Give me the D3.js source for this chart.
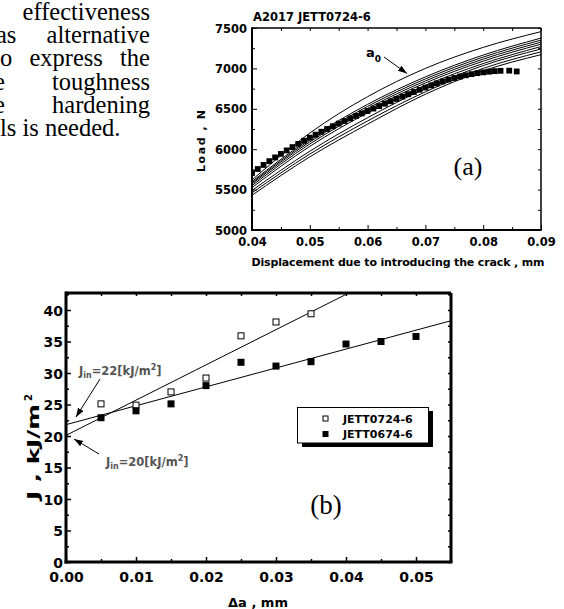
<!DOCTYPE html>
<html>
<head>
<meta charset="utf-8">
<script src="https://cdnjs.cloudflare.com/ajax/libs/d3/7.8.5/d3.min.js"></script>
<style>
	body { margin: 0; background: #fff; }
	svg { display: block; }
	.tick text { font-family: "DejaVu Sans"; font-weight: bold; fill: #000; }
	.tick line { stroke: #000; }
	.sans { font-family: "DejaVu Sans"; font-weight: bold; }
	.serif { font-family: "Liberation Serif", serif; }
</style>
</head>
<body>
<script>
// paragraph fragment on the left
const paraWords = [["effectiveness"], ["as", "alternative"], ["o", "express", "the"], ["e", "toughness"], ["e", "hardening"], ["ls", "is", "needed."]];
const paraStart = [null, -4, 0, -6, -6, 0];

// (a) load vs displacement
const topXTicks = [0.04, 0.05, 0.06, 0.07, 0.08, 0.09];
const topXMinor = [0.045, 0.055, 0.065, 0.075, 0.085];
const topYTicks = [5000, 5500, 6000, 6500, 7000, 7500];
const topYMinor = [5250, 5750, 6250, 6750, 7250];

const measDisp = [0.040, 0.041, 0.042, 0.043, 0.044, 0.045, 0.046, 0.047, 0.048, 0.049,
	0.050, 0.051, 0.052, 0.053, 0.054, 0.055, 0.056, 0.057, 0.058, 0.059,
	0.060, 0.061, 0.062, 0.063, 0.064, 0.065, 0.066, 0.067, 0.068, 0.069,
	0.070, 0.071, 0.072, 0.073, 0.074, 0.075, 0.076, 0.077, 0.078, 0.079,
	0.080, 0.081, 0.082, 0.083, 0.0845, 0.0858];
const measLoad = [5705, 5755, 5805, 5852, 5898, 5942, 5985, 6026, 6066, 6105,
	6143, 6180, 6216, 6250, 6284, 6317, 6349, 6381, 6412, 6443,
	6473, 6503, 6533, 6563, 6593, 6622, 6651, 6680, 6708, 6736,
	6763, 6790, 6815, 6839, 6861, 6881, 6899, 6915, 6929, 6941,
	6951, 6959, 6966, 6970, 6972, 6962];

// computed curves for several crack lengths (a0 is the top one)
const curveDisp = [0.04, 0.05, 0.06, 0.07, 0.08, 0.09];
const curveLoads = [
	[5620, 6200, 6650, 7000, 7260, 7455],
	[5600, 6130, 6555, 6895, 7165, 7375],
	[5585, 6110, 6530, 6870, 7140, 7350],
	[5570, 6090, 6505, 6845, 7115, 7325],
	[5550, 6065, 6480, 6820, 7090, 7300],
	[5525, 6035, 6450, 6790, 7060, 7270],
	[5490, 5975, 6390, 6750, 7035, 7240],
	[5460, 5940, 6350, 6710, 7000, 7205],
	[5430, 5905, 6310, 6680, 6970, 7170]
];

// (b) J - delta a
const bXTicks = [0, 0.01, 0.02, 0.03, 0.04, 0.05];
const bXMinor = [0.005, 0.015, 0.025, 0.035, 0.045];
const bYTicks = [0, 5, 10, 15, 20, 25, 30, 35, 40];
const bYMinor = [2.5, 7.5, 12.5, 17.5, 22.5, 27.5, 32.5, 37.5, 42.5];

const daOpen = [0.005, 0.01, 0.015, 0.02, 0.025, 0.03, 0.035];
const jOpen = [25.1, 24.9, 27.0, 29.2, 35.9, 38.1, 39.4];
const daFilled = [0.005, 0.01, 0.015, 0.02, 0.025, 0.03, 0.035, 0.04, 0.045, 0.05];
const jFilled = [22.9, 24.0, 25.1, 28.0, 31.7, 31.1, 31.8, 34.6, 35.0, 35.8];

// fitted lines, endpoints [delta a, J]
const fitOpen = [[0, 20.1], [0.0404, 42.7]];
const fitFilled = [[0, 21.8], [0.055, 38.3]];

const legendNames = ["JETT0724-6", "JETT0674-6"];

const W = 564, H = 609;
const svg = d3.select("body").append("svg")
	.attr("width", W)
	.attr("height", H);

const defs = svg.append("defs");
defs.append("marker")
	.attr("id", "arr")
	.attr("viewBox", "0 -4 9 8")
	.attr("refX", 9)
	.attr("refY", 0)
	.attr("markerUnits", "userSpaceOnUse")
	.attr("markerWidth", 9)
	.attr("markerHeight", 8)
	.attr("orient", "auto")
	.append("path")
	.attr("d", "M0,-3.2L9,0L0,3.2Z")
	.attr("fill", "#000");

// ---- paragraph ----
const para = svg.append("g").attr("class", "serif").attr("font-size", 24.5).attr("fill", "#000");
paraWords.forEach((words, i) => {
	const yb = 20 + i * 23.2;
	if (i === paraWords.length - 1) {
		para.append("text").attr("x", paraStart[i]).attr("y", yb).text(words.join(" "));
		return;
	}
	const nodes = words.map(w => para.append("text").attr("y", yb).text(w));
	const widths = nodes.map(n => n.node().getComputedTextLength());
	if (words.length === 1) {
		nodes[0].attr("x", 150).attr("text-anchor", "end");
		return;
	}
	const gap = (150 - paraStart[i] - d3.sum(widths)) / (words.length - 1);
	let cx = paraStart[i];
	nodes.forEach((n, j) => { n.attr("x", cx); cx += widths[j] + gap; });
});

// helper to draw inward ticks on all four sides
function drawAxes(g, x, y, o) {
	const [x0, x1] = x.range();
	const [y0, y1] = y.range();
	const bottom = g.append("g").attr("transform", `translate(0,${y0})`)
		.call(d3.axisBottom(x).tickValues(o.xTicks).tickSize(-o.major).tickPadding(o.xPad).tickFormat(o.xFmt));
	g.append("g").attr("transform", `translate(0,${y0})`)
		.call(d3.axisBottom(x).tickValues(o.xMinor).tickSize(-o.minor).tickFormat(""));
	g.append("g").attr("transform", `translate(0,${y1})`)
		.call(d3.axisTop(x).tickValues(o.xTicks.concat(o.xMinor)).tickSize(-o.minor).tickFormat(""));
	const left = g.append("g").attr("transform", `translate(${x0},0)`)
		.call(d3.axisLeft(y).tickValues(o.yTicks).tickSize(-o.major).tickPadding(o.yPad).tickFormat(o.yFmt));
	g.append("g").attr("transform", `translate(${x0},0)`)
		.call(d3.axisLeft(y).tickValues(o.yMinor).tickSize(-o.minor).tickFormat(""));
	g.append("g").attr("transform", `translate(${x1},0)`)
		.call(d3.axisRight(y).tickValues(o.yTicks.concat(o.yMinor)).tickSize(-o.minor).tickFormat(""));
	g.selectAll(".domain").remove();
	g.selectAll(".tick line").attr("stroke-width", o.tickW);
	bottom.selectAll("text").attr("font-size", o.fs);
	left.selectAll("text").attr("font-size", o.fs).attr("dy", "0.36em");
	// frame
	g.append("line").attr("x1", x0).attr("x2", x1).attr("y1", y1).attr("y2", y1).attr("stroke", "#000").attr("stroke-width", o.frameT);
	g.append("line").attr("x1", x1).attr("x2", x1).attr("y1", y1).attr("y2", y0).attr("stroke", "#000").attr("stroke-width", o.frameT);
	g.append("line").attr("x1", x0 - o.frameB / 2).attr("x2", x1 + o.frameT / 2).attr("y1", y0).attr("y2", y0).attr("stroke", "#000").attr("stroke-width", o.frameB);
	g.append("line").attr("x1", x0).attr("x2", x0).attr("y1", y1 - o.frameT / 2).attr("y2", y0 + o.frameB / 2).attr("stroke", "#000").attr("stroke-width", o.frameB);
}

// ---- chart (a) ----
const xA = d3.scaleLinear().domain([0.04, 0.09]).range([252, 541]);
const yA = d3.scaleLinear().domain([5000, 7500]).range([230, 28]);
const gA = svg.append("g");

defs.append("clipPath").attr("id", "clipA").append("rect")
	.attr("x", 252).attr("y", 28).attr("width", 289).attr("height", 202);

const lineA = d3.line()
	.x((d, i) => xA(curveDisp[i]))
	.y(d => yA(d))
	.curve(d3.curveMonotoneX);

gA.append("g").attr("clip-path", "url(#clipA)")
	.selectAll("path.fe")
	.data(curveLoads)
	.join("path")
	.attr("class", "fe")
	.attr("d", lineA)
	.attr("fill", "none")
	.attr("stroke", "#000")
	.attr("stroke-width", 1);

gA.append("g").attr("clip-path", "url(#clipA)")
	.selectAll("rect")
	.data(measDisp)
	.join("rect")
	.attr("x", (d) => xA(d) - 2.9)
	.attr("y", (d, i) => yA(measLoad[i]) - 2.9)
	.attr("width", 5.8)
	.attr("height", 5.8)
	.attr("fill", "#000");

drawAxes(gA, xA, yA, {
	xTicks: topXTicks, xMinor: topXMinor, yTicks: topYTicks, yMinor: topYMinor,
	major: 5, minor: 3, xPad: 8, yPad: 5, fs: 11.5, tickW: 1,
	xFmt: d3.format(".2f"), yFmt: d3.format("d"), frameT: 1.5, frameB: 2
});

gA.append("text").attr("class", "sans").attr("x", 253).attr("y", 21).attr("font-size", 11.5)
	.text("A2017 JETT0724-6");

gA.append("text").attr("class", "sans").attr("font-size", 11)
	.attr("text-anchor", "middle")
	.attr("transform", "translate(205,141) rotate(-90)")
	.attr("textLength", 62)
	.text("Load , N");

gA.append("text").attr("class", "sans").attr("font-size", 11)
	.attr("x", 398).attr("y", 266)
	.attr("text-anchor", "middle")
	.attr("textLength", 293)
	.text("Displacement due to introducing the crack , mm");

const a0 = gA.append("text").attr("class", "sans").attr("font-size", 13).attr("x", 366).attr("y", 57);
a0.append("tspan").text("a");
a0.append("tspan").attr("font-size", 9).attr("dy", 5).text("0");
gA.append("line").attr("x1", 384).attr("y1", 57).attr("x2", 407).attr("y2", 73.5)
	.attr("stroke", "#000").attr("stroke-width", 1).attr("marker-end", "url(#arr)");

gA.append("text").attr("class", "serif").attr("font-size", 26)
	.attr("x", 468).attr("y", 175).attr("text-anchor", "middle").text("(a)");

// ---- chart (b) ----
const xB = d3.scaleLinear().domain([0, 0.055]).range([66, 451]);
const yB = d3.scaleLinear().domain([0, 42.7]).range([562, 293]);
const gB = svg.append("g");

defs.append("clipPath").attr("id", "clipB").append("rect")
	.attr("x", 66).attr("y", 293).attr("width", 385).attr("height", 269);

const fitLine = d3.line().x(d => xB(d[0])).y(d => yB(d[1]));
gB.append("g").attr("clip-path", "url(#clipB)")
	.selectAll("path")
	.data([fitOpen, fitFilled])
	.join("path")
	.attr("d", fitLine)
	.attr("fill", "none")
	.attr("stroke", "#000")
	.attr("stroke-width", 1);

gB.selectAll("rect.open")
	.data(daOpen)
	.join("rect")
	.attr("class", "open")
	.attr("x", d => xB(d) - 3)
	.attr("y", (d, i) => yB(jOpen[i]) - 3)
	.attr("width", 6).attr("height", 6)
	.attr("fill", "#fff").attr("stroke", "#000").attr("stroke-width", 1);

gB.selectAll("rect.filled")
	.data(daFilled)
	.join("rect")
	.attr("class", "filled")
	.attr("x", d => xB(d) - 3.5)
	.attr("y", (d, i) => yB(jFilled[i]) - 3.5)
	.attr("width", 7).attr("height", 7)
	.attr("fill", "#000");

drawAxes(gB, xB, yB, {
	xTicks: bXTicks, xMinor: bXMinor, yTicks: bYTicks, yMinor: bYMinor,
	major: 5, minor: 3, xPad: 10, yPad: 3, fs: 14, tickW: 1.5,
	xFmt: d3.format(".2f"), yFmt: d3.format("d"), frameT: 3, frameB: 3
});

gB.append("text").attr("class", "sans").attr("font-size", 13)
	.attr("x", 258).attr("y", 607).attr("text-anchor", "middle")
	.text("\u0394a , mm");

// rotated y label, main part stretched to the reference's length
gB.append("text").attr("class", "sans").attr("font-size", 16)
	.attr("transform", "translate(39,500) rotate(-90)")
	.attr("textLength", 96)
	.attr("lengthAdjust", "spacingAndGlyphs")
	.text("J , kJ/m");
gB.append("text").attr("class", "sans").attr("font-size", 10)
	.attr("transform", "translate(32,401) rotate(-90)")
	.text("2");

// annotations
function jin(x, y, val) {
	const t = gB.append("text").attr("class", "sans").attr("font-size", 11.5).attr("fill", "#555")
		.attr("x", x).attr("y", y);
	t.append("tspan").text("J");
	t.append("tspan").attr("font-size", 8).attr("dy", 3).text("in");
	t.append("tspan").attr("dy", -3).text("=" + val + "[kJ/m");
	t.append("tspan").attr("font-size", 8).attr("dy", -5).text("2");
	t.append("tspan").attr("dy", 5).text("]");
}
jin(79, 375, 22);
jin(106, 466, 20);
gB.append("line").attr("x1", 100).attr("y1", 379).attr("x2", 76).attr("y2", 417)
	.attr("stroke", "#000").attr("stroke-width", 1).attr("marker-end", "url(#arr)");
gB.append("line").attr("x1", 99).attr("y1", 454).attr("x2", 74).attr("y2", 439)
	.attr("stroke", "#000").attr("stroke-width", 1).attr("marker-end", "url(#arr)");

// legend with drop shadow
const lg = gB.append("g");
lg.append("rect").attr("x", 302).attr("y", 411).attr("width", 131).attr("height", 36).attr("fill", "#000");
lg.append("rect").attr("x", 297.5).attr("y", 407.5).attr("width", 131).attr("height", 35.5)
	.attr("fill", "#fff").attr("stroke", "#000").attr("stroke-width", 1);
legendNames.forEach((name, i) => {
	const cy = 418.5 + i * 15.5;
	if (i === 0) {
		lg.append("rect").attr("x", 323).attr("y", cy - 2.5).attr("width", 5).attr("height", 5)
			.attr("fill", "#fff").attr("stroke", "#000").attr("stroke-width", 1);
	} else {
		lg.append("rect").attr("x", 322.5).attr("y", cy - 3).attr("width", 6).attr("height", 6).attr("fill", "#000");
	}
	lg.append("text").attr("class", "sans").attr("font-size", 11)
		.attr("x", 343).attr("y", cy + 4).text(name);
});

gB.append("text").attr("class", "serif").attr("font-size", 27)
	.attr("x", 326).attr("y", 514).attr("text-anchor", "middle").text("(b)");
</script>
</body>
</html>
